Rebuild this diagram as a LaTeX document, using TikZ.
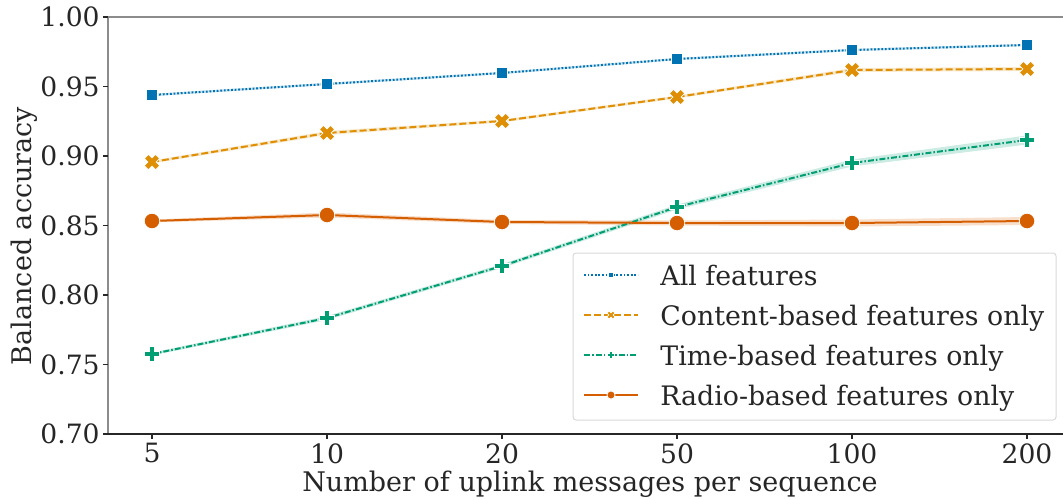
\documentclass[tikz,border=0pt]{standalone}
\usepackage{fontspec}
\setmainfont{DejaVu Serif}
\usetikzlibrary{calc}

\definecolor{cbBlue}{HTML}{0173B2}
\definecolor{cbOrange}{HTML}{DE8F05}
\definecolor{cbGreen}{HTML}{029E73}
\definecolor{cbRed}{HTML}{D55E00}
\definecolor{spinegray}{HTML}{8C8C8C}
\definecolor{inkdark}{HTML}{262626}
\definecolor{legframe}{HTML}{D9D9D9}

\tikzset{
  ticklabel/.style={font=\fontsize{13.3}{15}\selectfont, text=inkdark, inner sep=0pt},
  axlabel/.style={font=\fontsize{13.5}{15}\selectfont, text=inkdark, inner sep=0pt},
  legtext/.style={font=\fontsize{13.4}{16}\selectfont, text=inkdark, inner sep=0pt, anchor=base west},
  tickmark/.style={inkdark, line width=0.6pt},
  lineall/.style={cbBlue, line width=1pt, dash pattern=on 0.9pt off 0.9pt},
  linecontent/.style={cbOrange, line width=1pt, dash pattern=on 3.5pt off 1.5pt},
  linetime/.style={cbGreen, line width=1pt, dash pattern=on 3pt off 1pt on 0.8pt off 1pt},
  lineradio/.style={cbRed, line width=1pt},
  band/.style={fill opacity=0.2},
  mkedge/.style={draw=white, line width=0.4pt},
  % markers, drawn as filled outlines so that they scale as a whole
  sqmark/.pic={\filldraw[fill=cbBlue, mkedge] (-5.5,-5.5) rectangle (5.5,5.5);},
  xmark/.pic={\filldraw[fill=cbOrange, mkedge, rotate=45]
      (-2.9,-8) -- (2.9,-8) -- (2.9,-2.9) -- (8,-2.9) -- (8,2.9) -- (2.9,2.9)
      -- (2.9,8) -- (-2.9,8) -- (-2.9,2.9) -- (-8,2.9) -- (-8,-2.9) -- (-2.9,-2.9) -- cycle;},
  plusmark/.pic={\filldraw[fill=cbGreen, mkedge]
      (-2.4,-7.2) -- (2.4,-7.2) -- (2.4,-2.4) -- (7.2,-2.4) -- (7.2,2.4) -- (2.4,2.4)
      -- (2.4,7.2) -- (-2.4,7.2) -- (-2.4,2.4) -- (-7.2,2.4) -- (-7.2,-2.4) -- (-2.4,-2.4) -- cycle;},
  dotmark/.pic={\filldraw[fill=cbRed, mkedge] (0,0) circle (7.8);},
}

\begin{document}
\begin{tikzpicture}[x=0.5pt, y=-0.5pt]
\useasboundingbox (0,0) rectangle (1063,499);

% data points (x: 5,10,20,50,100,200 messages)
\foreach \n/\x/\ya/\yc/\yt/\yr in {1/152/95/162/354/221, 2/327/84/133/318/215,
    3/502/73/121/266/222, 4/677/59/97/207/223, 5/852/50/70/163/223, 6/1027/45/69/140/221}{
  \coordinate (a\n) at (\x,\ya);
  \coordinate (c\n) at (\x,\yc);
  \coordinate (t\n) at (\x,\yt);
  \coordinate (r\n) at (\x,\yr);
}

% confidence bands
\fill[cbBlue, band] ($(a1)+(0,-1.2)$) -- ($(a2)+(0,-1.2)$) -- ($(a3)+(0,-1.2)$) -- ($(a4)+(0,-1.2)$) -- ($(a5)+(0,-1.2)$) -- ($(a6)+(0,-1.2)$)
  -- ($(a6)+(0,1.2)$) -- ($(a5)+(0,1.2)$) -- ($(a4)+(0,1.2)$) -- ($(a3)+(0,1.2)$) -- ($(a2)+(0,1.2)$) -- ($(a1)+(0,1.2)$) -- cycle;
\fill[cbOrange, band] ($(c1)+(0,-1.5)$) -- ($(c2)+(0,-2)$) -- ($(c3)+(0,-1.5)$) -- ($(c4)+(0,-1.5)$) -- ($(c5)+(0,-2)$) -- ($(c6)+(0,-2)$)
  -- ($(c6)+(0,2)$) -- ($(c5)+(0,2)$) -- ($(c4)+(0,1.5)$) -- ($(c3)+(0,1.5)$) -- ($(c2)+(0,2)$) -- ($(c1)+(0,1.5)$) -- cycle;
\fill[cbGreen, band] ($(t1)+(0,-1.5)$) -- ($(t2)+(0,-2)$) -- ($(t3)+(0,-2)$) -- ($(t4)+(0,-2.5)$) -- ($(t5)+(0,-3.5)$) -- ($(t6)+(0,-4.5)$)
  -- ($(t6)+(0,4.5)$) -- ($(t5)+(0,3.5)$) -- ($(t4)+(0,2.5)$) -- ($(t3)+(0,2)$) -- ($(t2)+(0,2)$) -- ($(t1)+(0,1.5)$) -- cycle;
\fill[cbRed, band] ($(r1)+(0,-1.5)$) -- ($(r2)+(0,-2.5)$) -- ($(r3)+(0,-2)$) -- ($(r4)+(0,-2.5)$) -- ($(r5)+(0,-3.5)$) -- ($(r6)+(0,-4)$)
  -- ($(r6)+(0,4)$) -- ($(r5)+(0,3.5)$) -- ($(r4)+(0,2.5)$) -- ($(r3)+(0,2)$) -- ($(r2)+(0,2.5)$) -- ($(r1)+(0,1.5)$) -- cycle;

% series lines
\draw[lineall] (a1) -- (a2) -- (a3) -- (a4) -- (a5) -- (a6);
\draw[linecontent] (c1) -- (c2) -- (c3) -- (c4) -- (c5) -- (c6);
\draw[linetime] (t1) -- (t2) -- (t3) -- (t4) -- (t5) -- (t6);
\draw[lineradio] (r1) -- (r2) -- (r3) -- (r4) -- (r5) -- (r6);

% markers
\foreach \n in {1,...,6}{
  \pic at (a\n) {sqmark};
  \pic at (c\n) {xmark};
  \pic at (t\n) {plusmark};
  \pic at (r\n) {dotmark};
}

% spines
\draw[spinegray, line width=1pt] (108,17) -- (1063,17);
\draw[spinegray, line width=1pt] (108,17) -- (108,434);
\draw[inkdark, line width=0.7pt] (108,434) -- (1063,434);

% y ticks and labels
\foreach \v/\y in {0.70/434, 0.75/364.5, 0.80/295, 0.85/225.5, 0.90/156, 0.95/86.5, 1.00/17}{
  \draw[tickmark] (103,\y) -- (108,\y);
  \node[ticklabel, anchor=east] (yl\v) at (100,\y) {\v};
}
% x ticks and labels
\foreach \v/\x in {5/152, 10/327, 20/502, 50/677, 100/852, 200/1027}{
  \draw[tickmark] (\x,434) -- (\x,439);
  \node[ticklabel, anchor=north] (xl\v) at (\x,443) {\v};
}

% axis titles
\node[axlabel, anchor=base] (xtitle) at (590,491) {Number of uplink messages per sequence};
\node[axlabel, anchor=base, rotate=90] (ytitle) at (32,236) {Balanced accuracy};

% legend
\node[draw=legframe, fill=white, line width=0.5pt, rounded corners=1.5pt, inner sep=0pt,
      minimum width=241.5pt, minimum height=83.5pt] (legend) at (814.5,336.5) {};
\foreach \row/\y/\sty/\mk/\txt in {
    1/275/lineall/sqmark/All features,
    2/315/linecontent/xmark/Content-based features only,
    3/355/linetime/plusmark/Time-based features only,
    4/395/lineradio/dotmark/Radio-based features only}{
  \coordinate (ls\row) at (584,\y);
  \coordinate (le\row) at (638,\y);
  \draw[\sty] (ls\row) -- (le\row);
  \pic[scale=0.52] at (611,\y) {\mk};
  \node[legtext] (lt\row) at (660,\y+10) {\txt};
}
\end{tikzpicture}
\end{document}
